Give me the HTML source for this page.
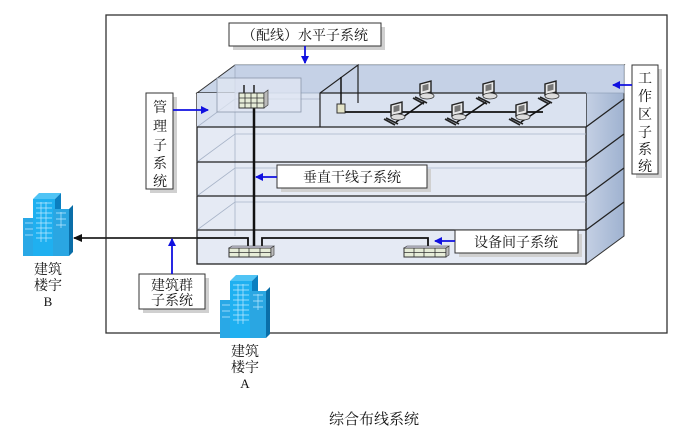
<!DOCTYPE html>
<html><head><meta charset="utf-8"><style>
body{margin:0;background:#fff;}
svg text{font-family:"Liberation Serif","Noto Serif CJK SC",serif;fill:#111;}
</style></head><body>
<svg width="687" height="440" viewBox="0 0 687 440" xmlns="http://www.w3.org/2000/svg">
<defs>
<marker id="ab" markerWidth="8" markerHeight="8" refX="7" refY="4" orient="auto" markerUnits="userSpaceOnUse"><path d="M0,0 L8,4 L0,8 Z" fill="#1010e0"/></marker>
<marker id="ak" markerWidth="9" markerHeight="8" refX="8" refY="4" orient="auto" markerUnits="userSpaceOnUse"><path d="M0,0 L9,4 L0,8 Z" fill="#111"/></marker>
<linearGradient id="side" x1="0" x2="1"><stop offset="0" stop-color="#c4d0e4"/><stop offset="1" stop-color="#9fb2d0"/></linearGradient>
<g id="bld">
<rect x="0" y="25" width="12" height="38" fill="#29a8e6"/>
<rect x="10" y="6" width="22" height="57" fill="#1fb0f0"/>
<polygon points="10,6 16,0 38,0 32,6" fill="#50c4f5"/>
<polygon points="32,6 38,0 38,57 32,63" fill="#0b7fc0"/>
<rect x="30" y="16" width="16" height="47" fill="#2aa6e2"/>
<polygon points="46,16 50,12 50,59 46,63" fill="#0a6ea8"/>
<g fill="none" stroke="#bfe9ff" stroke-width="0.7">
<path d="M13,10h16M13,15h16M13,20h16M13,25h16M13,30h16M13,35h16M13,40h16M13,45h16M18,9v40M23,9v40M33,20h10M33,26h10M33,32h10M38,19v16M2,30h8M2,36h8M2,42h8"/>
</g></g>
<g id="pc">
<rect x="0" y="0" width="11" height="11" fill="#e8e8e8" stroke="#222" stroke-width="1.4" transform="skewY(-15)"/>
<rect x="2.5" y="2" width="6" height="6" fill="#777" transform="skewY(-15)"/>
<ellipse cx="7" cy="12" rx="7" ry="3" fill="#ddd" stroke="#333" stroke-width="0.8"/>
<path d="M-7,14 L4,20 M-5,13 L7,19" stroke="#222" stroke-width="1.7"/>
</g>
<g id="sw">
<rect x="0" y="2" width="42" height="9" fill="#e6ecd8" stroke="#333"/>
<path d="M0,6.5h42M10,2v9M20,2v9M31,2v9" stroke="#333" stroke-width="0.8"/>
<polygon points="42,2 45,0 45,9 42,11" fill="#bbb" stroke="#333" stroke-width="0.6"/>
<polygon points="0,2 3,0 45,0 42,2" fill="#ccd" stroke="#333" stroke-width="0.6"/>
</g>
</defs>

<rect x="106" y="15" width="561" height="318" fill="none" stroke="#333" stroke-width="1.3"/>

<polygon points="197,93 235,65 624,65 586,93" fill="#c9d5e8" stroke="#333"/>
<polygon points="586,93 624,65 624,236 586,264" fill="url(#side)" stroke="#333"/>
<rect x="197" y="93" width="389" height="171" fill="#e5eaf4" stroke="#222" stroke-width="1.3"/>
<rect x="197" y="93" width="389" height="34" fill="#dae2f0"/>
<rect x="235" y="65" width="389" height="28" fill="#c5d1e6" stroke="#8898b0" stroke-width="0.6"/>
<g stroke="#a8b4c8" stroke-width="0.8" fill="none">
<path d="M197,127 L235,99 L235,65 M197,162 L235,134 H586 M197,196 L235,168 H586 M197,230 L235,202 H586 M235,99 H320"/>
<path d="M235,99 V236"/>
</g>
<g stroke="#222" stroke-width="1.3">
<path d="M197,127H586M197,162H586M197,196H586M197,230H586"/>
<path d="M586,127 L624,99 M586,162 L624,134 M586,196 L624,168 M586,230 L624,202"/>
</g>
<rect x="217" y="78" width="84" height="34" fill="#e2e8f3" fill-opacity="0.7" stroke="#8a96aa" stroke-width="0.8"/>
<path d="M320,127 V93 L358,65 V103" stroke="#222" stroke-width="1.2" fill="none"/>
<path d="M320,93 H586" stroke="#222" stroke-width="1.3"/>
<path d="M254,100 V247" stroke="#111" stroke-width="2.5"/>
<g transform="translate(239,93)">
<path d="M5,0 V-8 M15,0 V-8" stroke="#222" stroke-width="1.5"/>
<rect x="0" y="0" width="25" height="15" fill="#e6ecd8" stroke="#333"/>
<path d="M0,5h25M0,10h25M6,0v15M12,0v15M18,0v15" stroke="#333" stroke-width="0.8"/>
<polygon points="25,0 29,-3 29,12 25,15" fill="#bbb" stroke="#333" stroke-width="0.6"/>
</g>
<path d="M341,77 V106" stroke="#111" stroke-width="1.5"/>
<rect x="337" y="104" width="8" height="9" fill="#e4e4c8" stroke="#333"/>
<path d="M345,112 H543" stroke="#111" stroke-width="1.8"/>
<path d="M396,122 L424,102 M457,122 L486,102 M521,122 L551,102" stroke="#111" stroke-width="1.5"/>
<use href="#pc" x="391" y="105"/><use href="#pc" x="420" y="84"/>
<use href="#pc" x="452" y="105"/><use href="#pc" x="483" y="84"/>
<use href="#pc" x="516" y="105"/><use href="#pc" x="545" y="84"/>
<path d="M262,247 V238 H428 V247" stroke="#111" stroke-width="1.8" fill="none"/>
<path d="M248,247 V238 H197" stroke="#111" stroke-width="1.8" fill="none"/>
<use href="#sw" x="229" y="246"/>
<use href="#sw" x="404" y="246"/>
<path d="M197,238 H74" stroke="#222" stroke-width="1.8" marker-end="url(#ak)"/>

<use href="#bld" x="23" y="193"/>
<use href="#bld" x="220" y="275"/>
<text x="48" y="274" font-size="14" text-anchor="middle">建筑</text>
<text x="48" y="290" font-size="14" text-anchor="middle">楼宇</text>
<text x="48" y="306" font-size="13" text-anchor="middle">B</text>
<text x="245" y="356" font-size="14" text-anchor="middle">建筑</text>
<text x="245" y="372" font-size="14" text-anchor="middle">楼宇</text>
<text x="245" y="388" font-size="13" text-anchor="middle">A</text>

<g fill="#d0d0d0">
<rect x="233" y="27" width="152" height="23"/><rect x="150" y="97" width="27" height="96"/>
<rect x="281" y="169" width="150" height="23"/><rect x="459" y="234" width="123" height="23"/>
<rect x="636" y="69" width="26" height="109"/><rect x="143" y="278" width="66" height="35"/>
</g>
<g fill="#fff" stroke="#333">
<rect x="229" y="23" width="152" height="23"/><rect x="146" y="93" width="27" height="96"/>
<rect x="277" y="165" width="150" height="23"/><rect x="455" y="230" width="123" height="23"/>
<rect x="632" y="65" width="26" height="109"/><rect x="139" y="274" width="66" height="35"/>
</g>
<text x="305" y="40" font-size="14" text-anchor="middle">（配线）水平子系统</text>
<text x="352" y="182" font-size="14" text-anchor="middle">垂直干线子系统</text>
<text x="516" y="247" font-size="14" text-anchor="middle">设备间子系统</text>
<text x="172" y="290" font-size="14" text-anchor="middle">建筑群</text>
<text x="172" y="305" font-size="14" text-anchor="middle">子系统</text>
<g font-size="14" text-anchor="middle">
<text x="160" y="112">管</text><text x="160" y="131">理</text><text x="160" y="150">子</text><text x="160" y="168">系</text><text x="160" y="186">统</text>
<text x="645" y="83">工</text><text x="645" y="101">作</text><text x="645" y="119">区</text><text x="645" y="137">子</text><text x="645" y="154">系</text><text x="645" y="171">统</text>
</g>

<g stroke="#1010e0" stroke-width="1.8" fill="none">
<path d="M305,46 V63" marker-end="url(#ab)"/>
<path d="M173,110 H208" marker-end="url(#ab)"/>
<path d="M277,177 H256" marker-end="url(#ab)"/>
<path d="M455,241 H435" marker-end="url(#ab)"/>
<path d="M632,85 H613" marker-end="url(#ab)"/>
<path d="M172,274 V239" marker-end="url(#ab)"/>
</g>

<text x="374" y="424" font-size="15" text-anchor="middle">综合布线系统</text>
</svg>
</body></html>
